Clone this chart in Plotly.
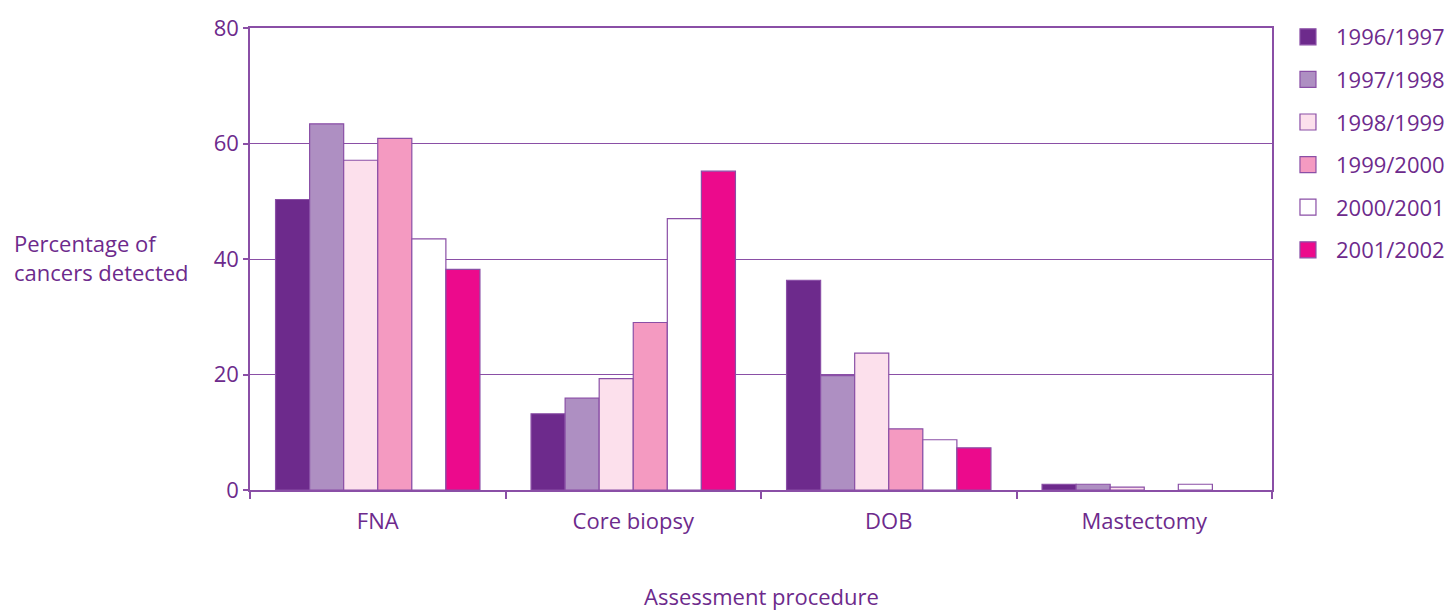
import plotly.graph_objects as go

categories = ["FNA", "Core biopsy", "DOB", "Mastectomy"]
years = ["1996/1997", "1997/1998", "1998/1999", "1999/2000", "2000/2001", "2001/2002"]
v_1996 = [50.3, 13.2, 36.3, 1.0]
v_1997 = [63.4, 15.9, 19.8, 1.0]
v_1998 = [57.1, 19.3, 23.7, 0.5]
v_1999 = [60.9, 29.0, 10.6, 0.0]
v_2000 = [43.5, 47.0, 8.7, 1.0]
v_2001 = [38.2, 55.2, 7.3, 0.0]
series = [v_1996, v_1997, v_1998, v_1999, v_2000, v_2001]
colors = ["#6D2A8C", "#AE8FC2", "#FCE0EC", "#F49AC1", "#FFFFFF", "#EC0A8C"]

PURPLE = "#6D2A8C"
LINE = "#8A4FA6"
FONT = "Open Sans"
FS = 22

fig = go.Figure()
for name, vals, col in zip(years, series, colors):
    fig.add_trace(go.Bar(
        x=categories, y=vals, name=name, showlegend=False,
        marker=dict(color=col, line=dict(color=LINE, width=[1.2 if v > 0 else 0 for v in vals])),
    ))
    fig.add_trace(go.Scatter(
        x=[None], y=[None], name=name, mode="markers", legendgroup=name,
        marker=dict(symbol="square", size=17, color=col, line=dict(color=LINE, width=1.2)),
    ))

fig.update_layout(
    width=1447, height=610,
    margin=dict(l=250, r=175, t=28, b=120, autoexpand=False),
    paper_bgcolor="white", plot_bgcolor="white",
    barmode="group", bargap=0.2, bargroupgap=0,
    font=dict(family=FONT, size=FS, color=PURPLE),
    legend=dict(x=1.0078, y=1.026, xanchor="left", yanchor="top",
                font=dict(size=FS, color=PURPLE), tracegroupgap=11,
                traceorder="grouped", itemwidth=46),
    xaxis=dict(type="category", tickson="boundaries", ticks="outside", ticklen=7,
               tickcolor=LINE, tickwidth=1.5, showline=True, linecolor=LINE, linewidth=1.5,
               mirror=True, showgrid=False, tickfont=dict(size=FS, color=PURPLE),
               ticklabelstandoff=11, range=[-0.5, 3.5]),
    yaxis=dict(range=[0, 80], tickvals=[0, 20, 40, 60, 80], ticks="outside", ticklen=5,
               tickcolor=LINE, tickwidth=1.5, showline=True, linecolor=LINE, linewidth=1.5,
               mirror=True, showgrid=True, gridcolor=LINE, gridwidth=1,
               tickfont=dict(size=FS, color=PURPLE), zeroline=False),
    annotations=[
        dict(text="Percentage of<br>cancers detected", xref="paper", yref="paper",
             x=-0.233, y=0.503, xanchor="left", yanchor="middle", align="left",
             showarrow=False, font=dict(size=FS, color=PURPLE)),
        dict(text="Assessment procedure", xref="paper", yref="paper",
             x=0.5, y=-0.229, xanchor="center", yanchor="middle",
             showarrow=False, font=dict(size=FS, color=PURPLE)),
    ],
)

fig.write_html("out.html")
